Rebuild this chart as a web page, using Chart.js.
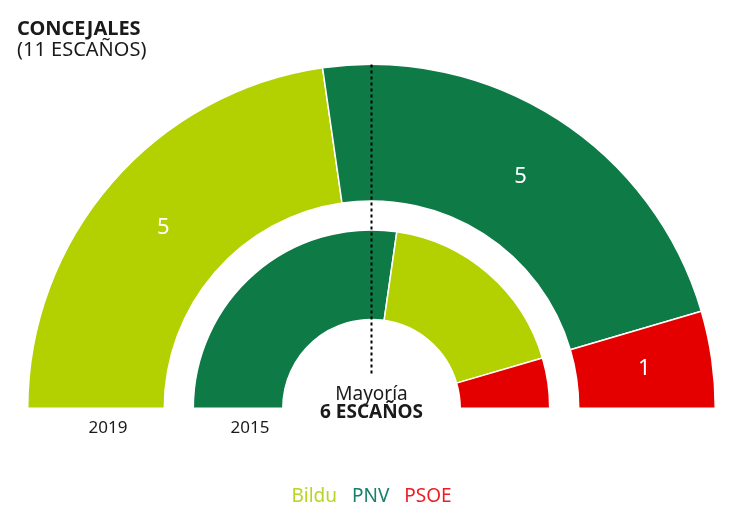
<!DOCTYPE html>
<html>
<head>
<meta charset="utf-8">
<script src="https://cdn.jsdelivr.net/npm/chart.js@4/dist/chart.umd.min.js"></script>
<style>
  html, body { margin: 0; padding: 0; background: #fff; }
  #wrap { width: 745px; height: 511px; position: relative; }
</style>
</head>
<body>
<div id="wrap"><canvas id="id-canvas" width="745" height="511"></canvas></div>
<script>
// datos
var partidos = ['Bildu', 'PNV', 'PSOE'];
var colores = { Bildu: '#b3d000', PNV: '#0e7a46', PSOE: '#e50000' };
var colorLeyenda = { Bildu: '#b9d423', PNV: '#16806a', PSOE: '#ee1c25' };

var orden2019 = ['Bildu', 'PNV', 'PSOE'];
var escanos2019 = [5, 5, 1];
var orden2015 = ['PNV', 'Bildu', 'PSOE'];
var escanos2015 = [6, 4, 1];

var anos = ['2019', '2015'];
var totalEscanos = 11;
var mayoria = 6;

var FONT = '"Noto Sans", "Open Sans", sans-serif';

(function() {
  // textos y linea de mayoria, dibujados sobre el grafico
  var textos = {
    id: 'textos',
    afterDatasetsDraw: function(chart) {
      var ctx = chart.ctx;
      var ext = chart.getDatasetMeta(0);
      var int = chart.getDatasetMeta(2);
      var a0 = ext.data[0];
      var cx = a0.x, cy = a0.y;

      ctx.save();
      // cifras del anillo exterior
      ctx.fillStyle = '#fff';
      ctx.font = '22px ' + FONT;
      ctx.textAlign = 'center';
      ctx.textBaseline = 'middle';
      ext.data.forEach(function(arc, i) {
        var p = arc.tooltipPosition();
        ctx.fillText(String(escanos2019[i]), p.x, p.y);
      });

      // linea de mayoria
      ctx.strokeStyle = '#000';
      ctx.lineWidth = 2;
      ctx.setLineDash([3, 3]);
      ctx.beginPath();
      ctx.moveTo(cx, cy - a0.outerRadius);
      ctx.lineTo(cx, cy - 34);
      ctx.stroke();
      ctx.setLineDash([]);

      // mayoria
      ctx.fillStyle = '#1a1a1a';
      ctx.textBaseline = 'alphabetic';
      ctx.font = '19px ' + FONT;
      ctx.fillText('Mayoría', cx, cy - 8);
      ctx.font = 'bold 19px ' + FONT;
      ctx.fillText(mayoria + ' ESCAÑOS', cx, cy + 10);

      // anos
      var i0 = int.data[0];
      ctx.font = '17px ' + FONT;
      ctx.fillText(anos[0], cx - (a0.outerRadius + a0.innerRadius) / 2 + 12, cy + 25);
      ctx.fillText(anos[1], cx - (i0.outerRadius + i0.innerRadius) / 2 + 12, cy + 25);

      // titulo
      ctx.textAlign = 'left';
      ctx.font = 'bold 20px ' + FONT;
      ctx.fillText('CONCEJALES', 17, 35);
      ctx.font = '20px ' + FONT;
      ctx.fillText('(' + totalEscanos + ' ESCAÑOS)', 17, 56);

      // leyenda
      ctx.font = '19px ' + FONT;
      var gap = 15;
      var anchos = partidos.map(function(p) { return ctx.measureText(p).width; });
      var total = anchos.reduce(function(s, w) { return s + w; }, 0) + gap * (partidos.length - 1);
      var x = cx - total / 2;
      partidos.forEach(function(p, i) {
        ctx.fillStyle = colorLeyenda[p];
        ctx.fillText(p, x, 502);
        x += anchos[i] + gap;
      });
      ctx.restore();
    }
  };

  var ctx = document.getElementById('id-canvas').getContext('2d');
  window.grafico = new Chart(ctx, {
    type: 'doughnut',
    data: {
      datasets: [
        {
          label: anos[0],
          data: escanos2019,
          backgroundColor: orden2019.map(function(p) { return colores[p]; }),
          borderColor: '#fff',
          borderWidth: 1.5,
          weight: 136.5
        },
        {
          // hueco entre anillos
          label: '',
          data: [totalEscanos],
          backgroundColor: 'rgba(0,0,0,0)',
          borderWidth: 0,
          weight: 29
        },
        {
          label: anos[1],
          data: escanos2015,
          backgroundColor: orden2015.map(function(p) { return colores[p]; }),
          borderColor: '#fff',
          borderWidth: 1.5,
          weight: 89.5
        }
      ]
    },
    options: {
      responsive: false,
      animation: false,
      events: [],
      rotation: -90,
      circumference: 180,
      cutout: '25.8%',
      layout: { padding: { left: 27, right: 29, top: 63.5, bottom: 102 } },
      plugins: {
        legend: { display: false },
        tooltip: { enabled: false }
      }
    },
    plugins: [textos]
  });
})();
</script>
</body>
</html>
